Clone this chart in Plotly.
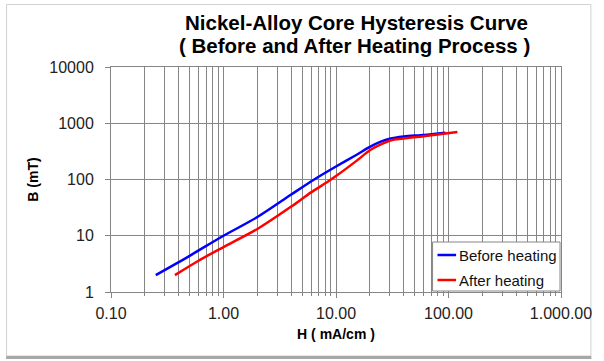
import plotly.graph_objects as go

# Data
h_before = [0.25, 0.5, 1, 2, 4, 6.4, 10, 15, 20, 25, 30, 40, 60, 94]
b_before = [2, 4.4, 10, 21.5, 54, 100, 170, 270, 380, 470, 530, 580, 620, 680]

h_after = [0.37, 0.6, 1, 2, 4, 6, 8.5, 10, 15, 20, 25, 31, 60, 120]
b_after = [2, 3.6, 6.3, 13.2, 33, 59, 92, 115, 210, 330, 420, 500, 590, 700]

series_names = ["Before heating", "After heating"]
series_colors = ["#0000ff", "#ff0000"]

x_tickvals = [0.1, 1, 10, 100, 1000]
x_ticktext = ["0.10", "1.00", "10.00", "100.00", "1.000.00"]
y_tickvals = [1, 10, 100, 1000, 10000]
y_ticktext = ["1", "10", "100", "1000", "10000"]

minor_x = [m * 10 ** e for e in range(-1, 3) for m in range(2, 10)]

FONT = "Liberation Sans, Arial, sans-serif"
GRID = "#858585"

fig = go.Figure()
for hx, by, nm, col in [(h_before, b_before, series_names[0], series_colors[0]),
                        (h_after, b_after, series_names[1], series_colors[1])]:
    fig.add_trace(go.Scatter(x=hx, y=by, mode="lines", name=nm, showlegend=False,
                             line=dict(color=col, width=2.5, shape="spline", smoothing=0.8)))

W, H = 604, 361
L, R, T, B = 111, 34, 67, 69
pw, ph = W - L - R, H - T - B

def px(xp):
    return (xp - L) / pw

def py(yp):
    return (H - B - yp) / ph

fig.update_layout(
    width=W, height=H,
    margin=dict(l=L, r=R, t=T, b=B),
    paper_bgcolor="white", plot_bgcolor="white",
    font=dict(family=FONT, color="#000000", size=16),
    showlegend=False,
    xaxis=dict(type="log", range=[-1, 3], tickvals=x_tickvals, ticktext=x_ticktext,
               showgrid=True, gridcolor=GRID, gridwidth=1,
               minor=dict(tickvals=minor_x, showgrid=True, gridcolor=GRID, gridwidth=1,
                          ticks="outside", ticklen=3, tickcolor=GRID),
               ticks="outside", ticklen=5, tickcolor=GRID, ticklabelstandoff=2,
               showline=True, linecolor=GRID, linewidth=1, mirror=True,
               zeroline=False, tickfont=dict(size=16, color="#222"),
               title=dict(text="<b>H ( mA/cm )</b>", font=dict(size=14), standoff=7)),
    yaxis=dict(type="log", range=[0, 4], tickvals=y_tickvals, ticktext=y_ticktext,
               showgrid=True, gridcolor=GRID, gridwidth=1,
               ticks="outside", ticklen=5, tickcolor=GRID, ticklabelstandoff=8,
               showline=True, linecolor=GRID, linewidth=1, mirror=True,
               zeroline=False, tickfont=dict(size=16, color="#222"),
               title=dict(text="<b>B (mT)</b>", font=dict(size=14), standoff=7)),
)

# Titles
fig.add_annotation(text="<b>Nickel-Alloy Core Hysteresis Curve</b>", xref="paper", yref="paper",
                   x=px(361), y=py(22), showarrow=False, font=dict(size=20.5, family=FONT),
                   xanchor="center", yanchor="middle")
fig.add_annotation(text="<b>( Before and After Heating Process )</b>", xref="paper", yref="paper",
                   x=px(359), y=py(45), showarrow=False, font=dict(size=20.5, family=FONT),
                   xanchor="center", yanchor="middle")

# Legend box (drawn to match the reference's compact Excel-style legend)
fig.add_shape(type="rect", xref="paper", yref="paper",
              x0=px(439), x1=px(569), y0=py(291), y1=py(242),
              line=dict(color=GRID, width=1), fillcolor="white", layer="above")
for i, (nm, col) in enumerate(zip(series_names, series_colors)):
    yy = 255 + 25 * i
    fig.add_shape(type="line", xref="paper", yref="paper",
                  x0=px(444), x1=px(463), y0=py(yy), y1=py(yy),
                  line=dict(color=col, width=2.5), layer="above")
    fig.add_annotation(text=nm, xref="paper", yref="paper", x=px(464), y=py(yy),
                       showarrow=False, xanchor="left", yanchor="middle",
                       font=dict(size=15, family=FONT, color="#111"))

# Outer chart border
fig.add_shape(type="rect", xref="paper", yref="paper",
              x0=px(4.5), x1=px(600.5), y0=py(356), y1=py(4.5),
              line=dict(color="#d0d0d0", width=1), layer="below")
fig.add_shape(type="line", xref="paper", yref="paper",
              x0=px(4), x1=px(601), y0=py(357.5), y1=py(357.5),
              line=dict(color="#a8a8a8", width=3))

fig.write_html("out.html", config={"displayModeBar": False},
               post_script="document.body.style.margin='0';")
